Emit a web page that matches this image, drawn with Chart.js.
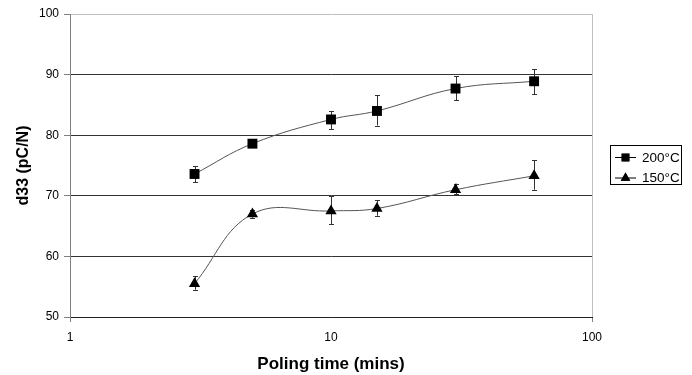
<!DOCTYPE html>
<html>
<head>
<meta charset="utf-8">
<script src="https://cdn.jsdelivr.net/npm/chart.js@4.4.0/dist/chart.umd.min.js"></script>
<style>
  body { margin: 0; background: #fff; }
</style>
</head>
<body>
<canvas id="chart" width="692" height="375"></canvas>
<script>
// poling times (mins)
var times = [3, 5, 10, 15, 30, 60];
var xTicks = [1, 10, 100];

// d33 values and error bar ends, 200°C
var d33_200 = [73.6, 78.6, 82.6, 84.0, 87.7, 88.9];
var hi_200 = [74.9, 78.9, 84.0, 86.6, 89.7, 90.9];
var lo_200 = [72.2, 78.3, 81.0, 81.6, 85.8, 86.8];

// 150°C
var d33_150 = [55.5, 67.0, 67.5, 67.9, 71.0, 73.3];
var hi_150 = [56.7, 67.7, 69.9, 69.3, 72.0, 75.9];
var lo_150 = [54.5, 66.4, 65.3, 66.7, 70.3, 71.0];

var FONT = "'Liberation Sans', Arial, sans-serif";

function points(ys) {
    return times.map(function (t, i) { return { x: t, y: ys[i] }; });
}

var errorBars = {
    id: 'errorBars',
    beforeDatasetsDraw: function (chart) {
        var ctx = chart.ctx;
        var xs = chart.scales.x, ys = chart.scales.y;
        ctx.save();
        ctx.strokeStyle = '#333';
        ctx.lineWidth = 1;
        chart.data.datasets.forEach(function (ds) {
            for (var i = 0; i < times.length; i++) {
                var x = Math.round(xs.getPixelForValue(times[i])) + 0.5;
                var y1 = ys.getPixelForValue(ds.errHi[i]);
                var y2 = ys.getPixelForValue(ds.errLo[i]);
                ctx.beginPath();
                ctx.moveTo(x, y1); ctx.lineTo(x, y2);
                ctx.moveTo(x - 2.5, Math.round(y1) + 0.5); ctx.lineTo(x + 2.5, Math.round(y1) + 0.5);
                ctx.moveTo(x - 2.5, Math.round(y2) + 0.5); ctx.lineTo(x + 2.5, Math.round(y2) + 0.5);
                ctx.stroke();
            }
        });
        ctx.restore();
    }
};

var boxLegend = {
    id: 'boxLegend',
    afterDraw: function (chart) {
        var ctx = chart.ctx;
        ctx.save();
        ctx.strokeStyle = '#000';
        ctx.lineWidth = 1;
        ctx.strokeRect(610.5, 145.5, 71, 39);
        chart.data.datasets.forEach(function (ds, i) {
            var cy = 157 + i * 20.5;
            ctx.strokeStyle = '#000';
            ctx.beginPath();
            ctx.moveTo(615, cy + 0.5); ctx.lineTo(636, cy + 0.5);
            ctx.stroke();
            ctx.fillStyle = '#000';
            Chart.helpers.drawPoint(ctx, { pointStyle: ds.pointStyle, radius: ds.pointStyle === 'rect' ? 5.5 : 5.5, borderWidth: 0 }, 625.5, cy + 0.5);
            ctx.fill();
            ctx.font = '13.5px ' + FONT;
            ctx.textBaseline = 'middle';
            ctx.textAlign = 'left';
            ctx.fillText(ds.label, 642, cy + 1);
        });
        ctx.restore();
    }
};

var ctx = document.getElementById('chart');

new Chart(ctx, {
    type: 'scatter',
    data: {
        datasets: [
            {
                label: '200°C',
                data: points(d33_200),
                errHi: hi_200,
                errLo: lo_200,
                showLine: true,
                tension: 0.4,
                borderColor: '#555',
                borderWidth: 1,
                pointStyle: 'rect',
                pointRadius: 7,
                pointBackgroundColor: '#000',
                pointBorderColor: '#000',
                pointBorderWidth: 0
            },
            {
                label: '150°C',
                data: points(d33_150),
                errHi: hi_150,
                errLo: lo_150,
                showLine: true,
                tension: 0.4,
                borderColor: '#555',
                borderWidth: 1,
                pointStyle: 'triangle',
                pointRadius: 6.5,
                pointBackgroundColor: '#000',
                pointBorderColor: '#000',
                pointBorderWidth: 0
            }
        ]
    },
    options: {
        responsive: false,
        animation: false,
        layout: { padding: { left: 0, right: 100, top: 14, bottom: 0 } },
        plugins: {
            legend: { display: false },
            tooltip: { enabled: false }
        },
        scales: {
            x: {
                type: 'logarithmic',
                min: 1,
                max: 100,
                afterBuildTicks: function (scale) {
                    scale.ticks = xTicks.map(function (v) { return { value: v }; });
                },
                afterFit: function (scale) { scale.height = 58; },
                ticks: {
                    color: '#000',
                    font: { family: FONT, size: 12 },
                    padding: 8,
                    maxRotation: 0,
                    callback: function (v) { return String(v); }
                },
                grid: {
                    color: function (c) { return c.tick && c.tick.value === 100 ? '#c0c0c0' : 'rgba(0,0,0,0)'; },
                    tickColor: function (c) { return c.tick && c.tick.value === 10 ? 'rgba(0,0,0,0)' : '#808080'; },
                    tickLength: 5
                },
                border: { display: true, color: '#222', width: 1 },
                title: {
                    display: true,
                    text: 'Poling time (mins)',
                    color: '#000',
                    font: { family: FONT, size: 17, weight: 'bold' },
                    padding: { top: 0, bottom: 0 }
                }
            },
            y: {
                min: 50,
                max: 100,
                afterFit: function (scale) { scale.width = 70; },
                ticks: {
                    stepSize: 10,
                    color: '#000',
                    font: { family: FONT, size: 12 },
                    padding: 5
                },
                grid: {
                    color: function (c) {
                        if (!c.tick) return '#333';
                        if (c.tick.value === 100) return '#c0c0c0';
                        return '#333';
                    },
                    tickColor: '#808080',
                    tickLength: 6
                },
                border: { display: true, color: '#808080', width: 1 },
                title: {
                    display: true,
                    text: 'd33 (pC/N)',
                    color: '#000',
                    font: { family: FONT, size: 16, weight: 'bold' },
                    padding: { top: 14, bottom: 0 }
                }
            }
        }
    },
    plugins: [errorBars, boxLegend]
});
</script>
</body>
</html>
